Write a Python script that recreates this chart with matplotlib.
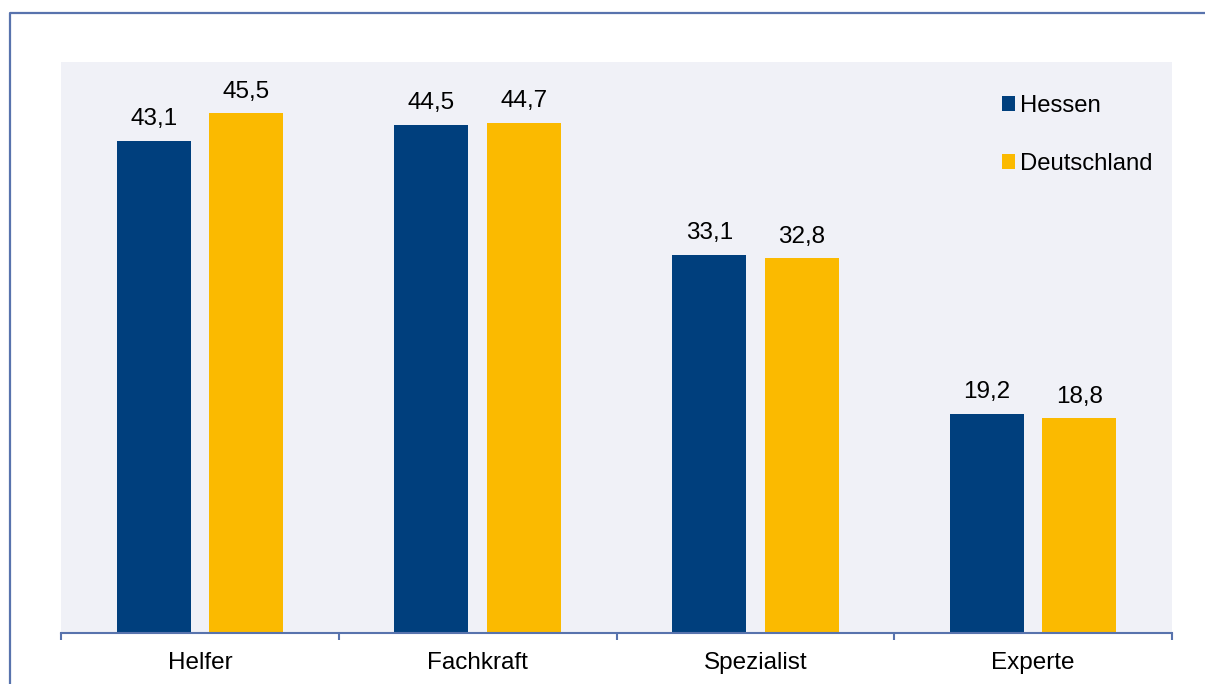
import matplotlib
matplotlib.use("Agg")
import matplotlib.pyplot as plt
from matplotlib.lines import Line2D
import numpy as np

# Data
categories = ["Helfer", "Fachkraft", "Spezialist", "Experte"]
hessen = [43.1, 44.5, 33.1, 19.2]
deutschland = [45.5, 44.7, 32.8, 18.8]
series_names = ["Hessen", "Deutschland"]

plt.rcParams["font.family"] = ["Liberation Sans", "DejaVu Sans"]

W, H = 1205, 684
fig = plt.figure(figsize=(W / 100, H / 100), dpi=100)
fig.patch.set_facecolor("white")

# plot area in pixel terms
left, right, top, bottom = 61, 1172, 62, 633
ax = fig.add_axes([left / W, 1 - bottom / H, (right - left) / W, (bottom - top) / H])
ax.set_facecolor("#F0F1F7")

navy = "#003F7D"
gold = "#FBBA00"
frame_col = "#5873AD"

x = np.arange(len(categories))
bw = 0.266
off = 0.1665
b1 = ax.bar(x - off, hessen, bw, color=navy, label=series_names[0], zorder=2)
b2 = ax.bar(x + off, deutschland, bw, color=gold, label=series_names[1], zorder=2)

for bars, vals in ((b1, hessen), (b2, deutschland)):
    for rect, v in zip(bars, vals):
        ax.annotate(f"{v:.1f}".replace(".", ","),
                    (rect.get_x() + rect.get_width() / 2, rect.get_height()),
                    xytext=(0, 11.3), textcoords="offset points",
                    ha="center", va="baseline", fontsize=17.5)

ax.set_xlim(-0.5, len(categories) - 0.5)
ax.set_ylim(0, 50)
ax.set_yticks([])

for s in ("top", "right", "left"):
    ax.spines[s].set_visible(False)
ax.spines["bottom"].set_color(frame_col)
ax.spines["bottom"].set_linewidth(1.5)

# boundary ticks (major) and centred labels (minor)
ax.set_xticks(np.arange(-0.5, len(categories), 1.0))
ax.set_xticklabels([])
ax.tick_params(axis="x", which="major", direction="out", length=5,
               width=1.5, color=frame_col)
ax.set_xticks(x, minor=True)
ax.set_xticklabels(categories, minor=True, fontsize=17.5)
ax.tick_params(axis="x", which="minor", length=0, pad=14)

leg = ax.legend(loc="upper left",
                bbox_to_anchor=((1002 - left) / (right - left), 1 - (95 - top) / (bottom - top)),
                frameon=False, fontsize=17.2, handlelength=0.55, handleheight=0.55,
                handletextpad=0.2, labelspacing=1.5, borderaxespad=0, borderpad=0)

# outer frame (left and top edges visible)
fig.add_artist(Line2D([10 / W, 10 / W, 1.01], [0, 1 - 13 / H, 1 - 13 / H],
                      transform=fig.transFigure, color=frame_col, lw=1.6))

fig.savefig("out.png", dpi=100)
